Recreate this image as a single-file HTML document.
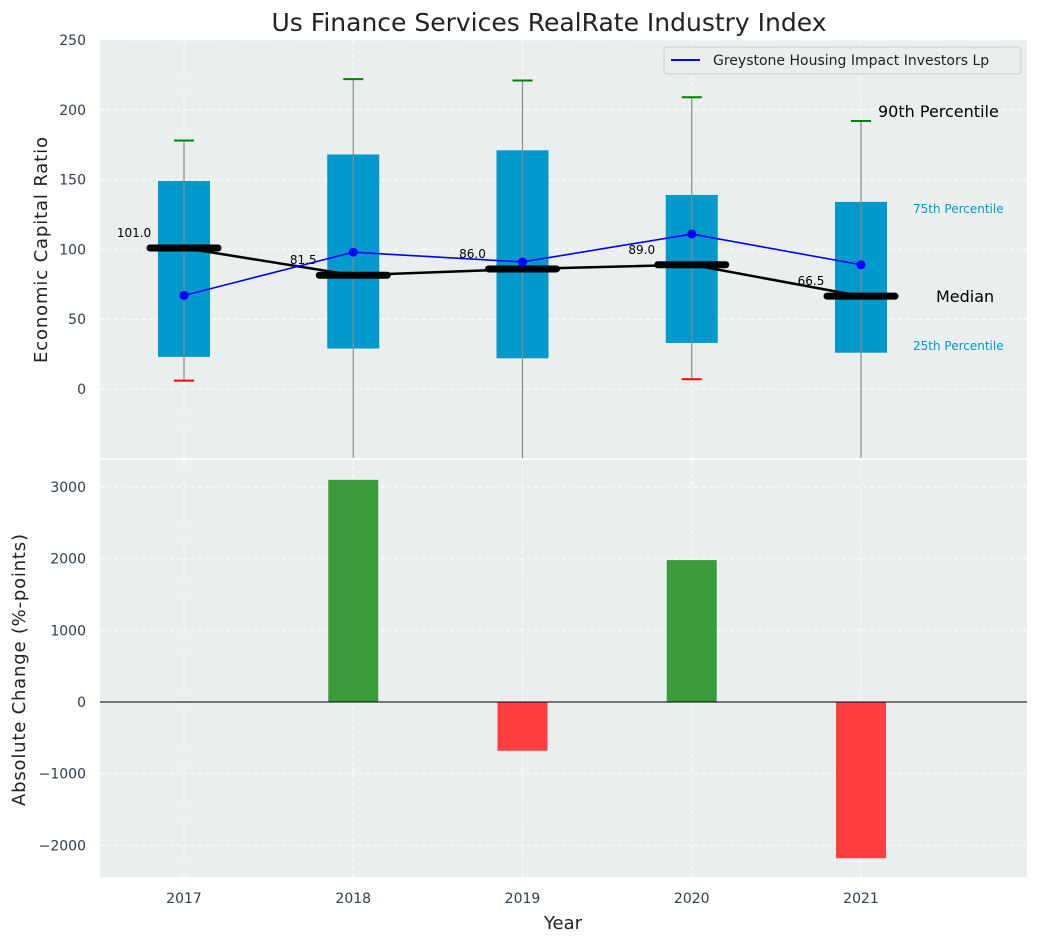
<!DOCTYPE html>
<html><head><meta charset="utf-8"><style>
body{margin:0;background:#fff;font-family:"Liberation Sans",sans-serif}
svg text{font-family:"DejaVu Sans","Liberation Sans",sans-serif}
</style></head><body>
<svg id="c" width="1039" height="942"></svg>
<script>
const years=[2017,2018,2019,2020,2021];
const p10=[6,-60,-60,7,-60];
const p25=[23,29,22,33,26];
const p75=[149,168,171,139,134];
const p90=[178,222,221,209,192];
const medians=[101,81.5,86,89,66.5];
const company=[67,98,91,111,89];
const changes=[0,3100,-680,1980,-2180];
const topTicks=[0,50,100,150,200,250];
const botTicks=[-2000,-1000,0,1000,2000,3000];
const NS='http://www.w3.org/2000/svg';
const svg=document.getElementById('c');
function el(t,a,txt){const e=document.createElementNS(NS,t);for(const k in a)e.setAttribute(k,a[k]);if(txt!=null)e.textContent=txt;svg.appendChild(e);return e;}
const L=100,R=1027;
const x=v=>184+(v-2017)*169.25;
const yT=v=>389-v*(349/250);
const yB=v=>702-v*(215/3000);
let e=el('rect',{x:L,y:40,width:R-L,height:418,fill:'#eaeeef'});

e=el('rect',{x:L,y:460,width:R-L,height:417,fill:'#eaeeef'});

topTicks.forEach(t=>{el('line',{x1:L,x2:R,y1:yT(t),y2:yT(t),stroke:'#fff','stroke-dasharray':'4,3','stroke-width':1});
 e=el('text',{x:L-14,y:yT(t)+5,'text-anchor':'end','font-size':14,fill:'#2d3e50'},t);
 });
botTicks.forEach(t=>{el('line',{x1:L,x2:R,y1:yB(t),y2:yB(t),stroke:'#fff','stroke-dasharray':'4,3','stroke-width':1});
 e=el('text',{x:L-14,y:yB(t)+5,'text-anchor':'end','font-size':14,fill:'#2d3e50'},(t<0?'\u2212'+(-t):t));
 });
years.forEach(yr=>{
 el('line',{x1:x(yr),x2:x(yr),y1:40,y2:458,stroke:'#fff','stroke-dasharray':'4,3'});
 el('line',{x1:x(yr),x2:x(yr),y1:460,y2:877,stroke:'#fff','stroke-dasharray':'4,3'});
 e=el('text',{x:x(yr),y:903,'text-anchor':'middle','font-size':14,fill:'#2d3e50'},yr);
 
});
const clip=v=>Math.max(v,-50);
years.forEach((yr,i)=>{
 const cx=x(yr);
 e=el('rect',{x:cx-26,y:yT(p75[i]),width:52,height:yT(p25[i])-yT(p75[i]),fill:'#0099cc'});
 
 e=el('line',{x1:cx,x2:cx,y1:yT(p90[i]),y2:Math.min(yT(clip(p10[i])),458),stroke:'#8a8a8a','stroke-width':1.2});
 
 e=el('line',{x1:cx-10,x2:cx+10,y1:yT(p90[i]),y2:yT(p90[i]),stroke:'green','stroke-width':2});
 
 if(p10[i]>-50){e=el('line',{x1:cx-10,x2:cx+10,y1:yT(p10[i]),y2:yT(p10[i]),stroke:'red','stroke-width':2});
 }
});
e=el('polyline',{points:years.map((yr,i)=>x(yr)+','+yT(medians[i])).join(' '),fill:'none',stroke:'#000','stroke-width':2.5});

years.forEach((yr,i)=>{
 e=el('line',{x1:x(yr)-34,x2:x(yr)+34,y1:yT(medians[i]),y2:yT(medians[i]),stroke:'#000','stroke-width':7,'stroke-linecap':'round'});
 
 e=el('text',{x:x(yr)-50,y:yT(medians[i])-11,'text-anchor':'middle','font-size':12,fill:'#000'},medians[i].toFixed(1));
 
});
e=el('polyline',{points:years.map((yr,i)=>x(yr)+','+yT(company[i])).join(' '),fill:'none',stroke:'blue','stroke-width':1.6});

years.forEach((yr,i)=>{e=el('circle',{cx:x(yr),cy:yT(company[i]),r:4.5,fill:'blue'});
 });
e=el('text',{x:878,y:117,'font-size':16,fill:'#000'},'90th Percentile');
e=el('text',{x:913,y:213,'font-size':12,fill:'#0099cc'},'75th Percentile');
e=el('text',{x:936,y:302,'font-size':16,fill:'#000'},'Median');
e=el('text',{x:913,y:350,'font-size':12,fill:'#0099cc'},'25th Percentile');
e=el('rect',{x:664,y:47,width:357,height:27,fill:'#eaeeef',stroke:'#ccc',rx:3});
el('line',{x1:671,x2:700,y1:60,y2:60,stroke:'blue','stroke-width':2});
e=el('text',{x:713,y:65,'font-size':14,fill:'#222'},'Greystone Housing Impact Investors Lp');
years.forEach((yr,i)=>{if(!changes[i])return;const v=changes[i];
 e=el('rect',{x:x(yr)-25,y:Math.min(yB(v),yB(0)),width:50,height:Math.abs(yB(v)-yB(0)),fill:v>0?'#3a9b3a':'#ff3f3f'});
 });
el('line',{x1:L,x2:R,y1:yB(0),y2:yB(0),stroke:'#000','stroke-width':1});
e=el('text',{x:549,y:31,'text-anchor':'middle','font-size':25,fill:'#222'},'Us Finance Services RealRate Industry Index');
e=el('text',{x:47,y:250,'text-anchor':'middle','font-size':18,fill:'#222',transform:'rotate(-90 47 250)','textLength':226},'Economic Capital Ratio');
e=el('text',{x:25,y:670,'text-anchor':'middle','font-size':18,fill:'#222',transform:'rotate(-90 25 670)','textLength':272},'Absolute Change (%-points)');
e=el('text',{x:563,y:929,'text-anchor':'middle','font-size':18,fill:'#222'},'Year');
</script></body></html>
